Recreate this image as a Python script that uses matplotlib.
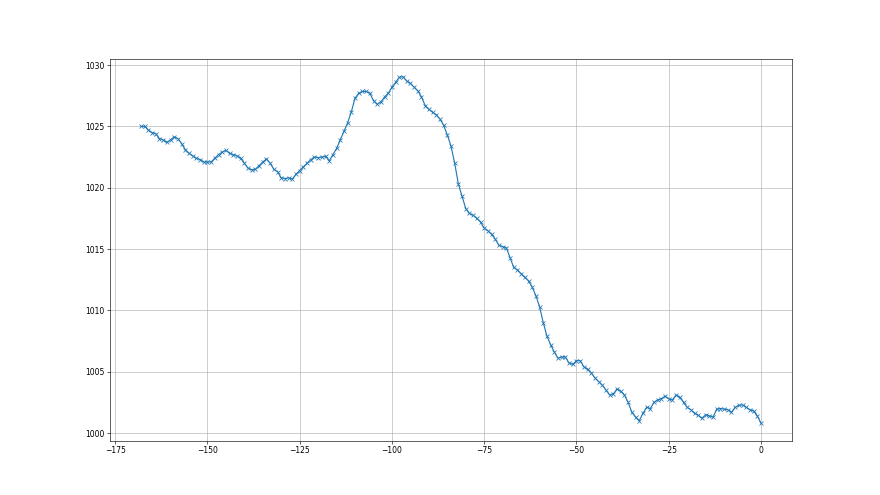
import matplotlib
matplotlib.use("Agg")
import matplotlib.pyplot as plt

hours = list(range(-168, 1))

pressure = [
    1025.0, 1025.0, 1024.7, 1024.5, 1024.4, 1024.0, 1023.9, 1023.7, 1023.9, 1024.15,
    1024.0, 1023.6, 1023.1, 1022.8, 1022.6, 1022.4, 1022.3, 1022.1, 1022.1, 1022.1,
    1022.4, 1022.7, 1022.9, 1023.05, 1022.8, 1022.7, 1022.6, 1022.4, 1022.0, 1021.6,
    1021.45, 1021.5, 1021.8, 1022.1, 1022.35, 1022.0, 1021.5, 1021.3, 1020.8, 1020.75,
    1020.8, 1020.7, 1021.1, 1021.4, 1021.7, 1022.0, 1022.3, 1022.5, 1022.45, 1022.5,
    1022.55, 1022.2, 1022.7, 1023.2, 1023.9, 1024.6, 1025.3, 1026.2, 1027.3, 1027.7,
    1027.85, 1027.85, 1027.7, 1027.1, 1026.8, 1027.0, 1027.4, 1027.7, 1028.2, 1028.6,
    1029.0, 1029.05, 1028.7, 1028.5, 1028.2, 1027.9, 1027.4, 1026.7, 1026.4, 1026.15,
    1025.95, 1025.6, 1025.1, 1024.3, 1023.4, 1022.0, 1020.3, 1019.3, 1018.3, 1017.9,
    1017.75, 1017.5, 1017.2, 1016.7, 1016.5, 1016.2, 1015.8, 1015.3, 1015.2, 1015.1,
    1014.3, 1013.5, 1013.3, 1013.0, 1012.7, 1012.4, 1011.9, 1011.2, 1010.3, 1009.0,
    1007.9, 1007.2, 1006.6, 1006.1, 1006.2, 1006.2, 1005.7, 1005.6, 1005.9, 1005.9,
    1005.4, 1005.2, 1004.9, 1004.5, 1004.2, 1003.9, 1003.5, 1003.1, 1003.2, 1003.6,
    1003.4, 1003.1, 1002.5, 1001.7, 1001.3, 1001.0, 1001.6, 1002.1, 1002.0, 1002.5,
    1002.7, 1002.8, 1003.0, 1002.8, 1002.7, 1003.1, 1002.9, 1002.5, 1002.1, 1001.9,
    1001.6, 1001.45, 1001.2, 1001.5, 1001.4, 1001.3, 1001.95, 1002.0, 1001.95, 1001.9,
    1001.7, 1002.1, 1002.25, 1002.3, 1002.1, 1001.9, 1001.8, 1001.4, 1000.8,
]

xticks = [-175, -150, -125, -100, -75, -50, -25, 0]
yticks = [1000, 1005, 1010, 1015, 1020, 1025, 1030]

fig, ax = plt.subplots(figsize=(16, 9), dpi=55)
ax.plot(hours, pressure, marker='x', color='#1f77b4', linewidth=1.5, markersize=6)
ax.set_xticks(xticks)
ax.set_yticks(yticks)
ax.grid(True)
fig.savefig("out.png", dpi=55)
